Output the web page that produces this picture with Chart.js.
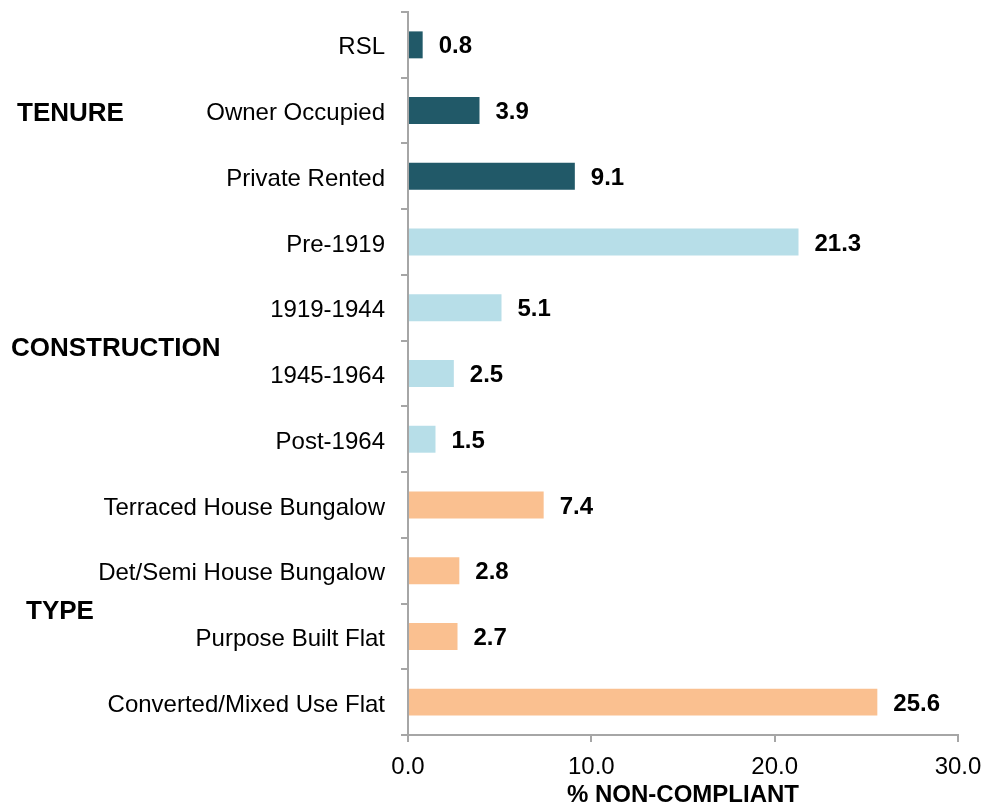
<!DOCTYPE html>
<html>
<head>
<meta charset="utf-8">
<script src="https://cdn.jsdelivr.net/npm/chart.js@4/dist/chart.umd.min.js"></script>
<style>
  html, body { margin: 0; padding: 0; background: #fff; }
  #wrap { width: 986px; height: 810px; }
</style>
</head>
<body>
<div id="wrap"><canvas id="nonCompliantChart"></canvas></div>
<script>
// categories and values
const categories = [
    'RSL', 'Owner Occupied', 'Private Rented',
    'Pre-1919', '1919-1944', '1945-1964', 'Post-1964',
    'Terraced House Bungalow', 'Det/Semi House Bungalow', 'Purpose Built Flat', 'Converted/Mixed Use Flat'
];
const values = [0.8, 3.9, 9.1, 21.3, 5.1, 2.5, 1.5, 7.4, 2.8, 2.7, 25.6];
const groups = ['TENURE', 'TENURE', 'TENURE',
    'CONSTRUCTION', 'CONSTRUCTION', 'CONSTRUCTION', 'CONSTRUCTION',
    'TYPE', 'TYPE', 'TYPE', 'TYPE'];
const xTicks = [0, 10, 20, 30];

const groupColors = { TENURE: '#215968', CONSTRUCTION: '#b7dee8', TYPE: '#fac090' };
const axisGrey = '#a6a6a6';
const fontFamily = '"Liberation Sans", Arial, sans-serif';

// value labels to the right of every bar, and the group headings on the left
const labelPlugin = {
    id: 'labels',
    afterDatasetsDraw(chart) {
        const ctx = chart.ctx;
        const meta = chart.getDatasetMeta(0);
        ctx.save();
        ctx.fillStyle = '#000';
        ctx.font = 'bold 24px ' + fontFamily;
        ctx.textAlign = 'left';
        ctx.textBaseline = 'middle';
        meta.data.forEach((bar, i) => {
            ctx.fillText(values[i].toFixed(1), bar.x + 16, bar.y + 2);
        });

        const y = chart.scales.y;
        ctx.font = 'bold 26px ' + fontFamily;
        ctx.fillText('TENURE', 17, y.getPixelForValue(1) + 3);
        ctx.fillText('CONSTRUCTION', 11, (y.getPixelForValue(4) + y.getPixelForValue(5)) / 2 + 8);
        ctx.fillText('TYPE', 26, (y.getPixelForValue(8) + y.getPixelForValue(9)) / 2 + 8);
        ctx.restore();
    }
};

const ctx = document.getElementById('nonCompliantChart').getContext('2d');
const chart = new Chart(ctx, {
    type: 'bar',
    data: {
        labels: categories,
        datasets: [{
            data: values,
            backgroundColor: groups.map(g => groupColors[g]),
            borderWidth: 0,
            barPercentage: 0.41,
            categoryPercentage: 1
        }]
    },
    options: {
        indexAxis: 'y',
        responsive: true,
        maintainAspectRatio: false,
        animation: false,
        layout: { padding: { top: 12, right: 28, left: 0, bottom: 0 } },
        plugins: {
            legend: { display: false },
            tooltip: { enabled: false }
        },
        scales: {
            y: {
                type: 'category',
                offset: true,
                grid: {
                    offset: true,
                    drawOnChartArea: false,
                    drawTicks: true,
                    tickLength: 7,
                    color: axisGrey,
                    lineWidth: 2
                },
                border: { color: axisGrey, width: 2 },
                ticks: {
                    color: '#000',
                    padding: 16,
                    labelOffset: 3,
                    font: { family: fontFamily, size: 24 }
                },
                afterFit(scale) {
                    scale.width = 408;
                    scale.paddingTop = 0;
                    scale.paddingBottom = 0;
                }
            },
            x: {
                min: 0,
                max: 30,
                afterBuildTicks(scale) {
                    scale.ticks = xTicks.map(v => ({ value: v }));
                },
                grid: {
                    drawOnChartArea: false,
                    drawTicks: true,
                    tickLength: 7,
                    color: axisGrey,
                    lineWidth: 2
                },
                border: { color: axisGrey, width: 2 },
                ticks: {
                    color: '#000',
                    padding: 11,
                    maxRotation: 0,
                    callback: v => Number(v).toFixed(1),
                    font: { family: fontFamily, size: 24 }
                },
                title: {
                    display: true,
                    text: '% NON-COMPLIANT',
                    color: '#000',
                    padding: { top: 2, bottom: 0 },
                    font: { family: fontFamily, size: 24, weight: 'bold' }
                },
                afterFit(scale) {
                    scale.height = 75;
                    scale.paddingLeft = 0;
                    scale.paddingRight = 0;
                }
            }
        }
    },
    plugins: [labelPlugin]
});
</script>
</body>
</html>
